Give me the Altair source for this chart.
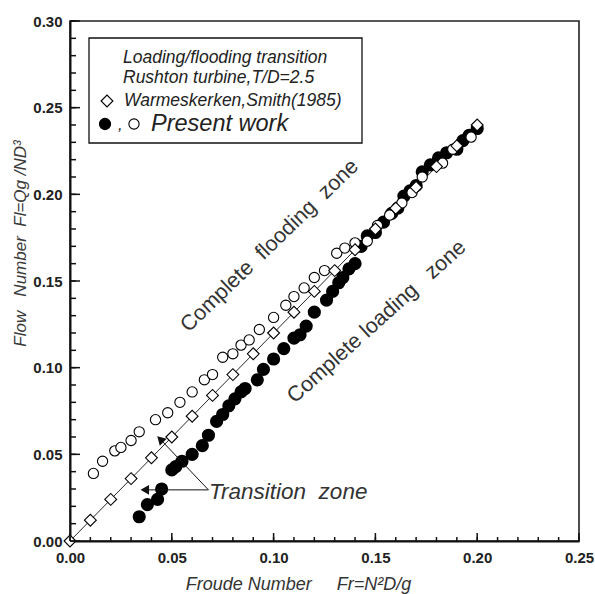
import altair as alt
import pandas as pd

# ---------------- data ----------------
# Warmeskerken & Smith (1985): open diamonds joined by a thin line
ws_fr = [0.000, 0.010, 0.020, 0.030, 0.040, 0.050, 0.060, 0.070, 0.080, 0.090, 0.100,
         0.110, 0.120, 0.130, 0.140, 0.150, 0.160, 0.170, 0.180, 0.190, 0.200]
ws_fl = [0.000, 0.012, 0.024, 0.036, 0.048, 0.060, 0.072, 0.084, 0.096, 0.108, 0.120,
         0.132, 0.144, 0.156, 0.168, 0.180, 0.192, 0.204, 0.216, 0.228, 0.240]

# Present work, open symbols (upper curve)
pw_open_fr = [0.0115, 0.016, 0.022, 0.025, 0.030, 0.034, 0.042, 0.048, 0.054, 0.060, 0.066,
              0.070, 0.075, 0.080, 0.084, 0.088, 0.093, 0.100, 0.106, 0.110, 0.115, 0.120,
              0.125, 0.131, 0.135, 0.140, 0.146, 0.151, 0.157, 0.163, 0.168, 0.173, 0.183,
              0.188, 0.197]
pw_open_fl = [0.039, 0.046, 0.052, 0.054, 0.058, 0.063, 0.070, 0.074, 0.080, 0.086, 0.093,
              0.096, 0.106, 0.108, 0.113, 0.116, 0.122, 0.129, 0.136, 0.141, 0.146, 0.152,
              0.156, 0.166, 0.169, 0.172, 0.173, 0.182, 0.188, 0.195, 0.201, 0.210, 0.218,
              0.226, 0.233]

# Present work, filled symbols (lower curve)
pw_fill_fr = [0.034, 0.038, 0.043, 0.045, 0.050, 0.052, 0.055, 0.060, 0.065, 0.068, 0.072,
              0.075, 0.078, 0.081, 0.084, 0.086, 0.092, 0.095, 0.100, 0.105, 0.110, 0.113,
              0.116, 0.120, 0.126, 0.129, 0.132, 0.134, 0.137, 0.140, 0.143, 0.146, 0.150,
              0.154, 0.158, 0.161, 0.164, 0.167, 0.170, 0.173, 0.177, 0.181, 0.185, 0.190,
              0.193, 0.196, 0.200]
pw_fill_fl = [0.014, 0.021, 0.024, 0.030, 0.041, 0.043, 0.046, 0.050, 0.055, 0.061, 0.069,
              0.073, 0.078, 0.082, 0.086, 0.088, 0.093, 0.099, 0.105, 0.111, 0.117, 0.119,
              0.124, 0.132, 0.139, 0.144, 0.149, 0.152, 0.157, 0.160, 0.170, 0.176, 0.178,
              0.184, 0.189, 0.192, 0.199, 0.202, 0.205, 0.213, 0.217, 0.221, 0.224, 0.226,
              0.231, 0.234, 0.238]

x_major = [0.00, 0.05, 0.10, 0.15, 0.20, 0.25]
y_major = [0.00, 0.05, 0.10, 0.15, 0.20, 0.25, 0.30]
x_minor = [round(i * 0.01, 2) for i in range(26)]
y_minor = [round(i * 0.01, 2) for i in range(31)]

W, H = 509, 520
FONT = "Liberation Sans"
INK = "#222222"
SP = "\u00a0"  # non-breaking space keeps the wide gaps of the original

xs = alt.Scale(domain=[0, 0.25], nice=False, zero=False)
ys = alt.Scale(domain=[0, 0.30], nice=False, zero=False)

x_axis = alt.Axis(values=x_major, format=".2f", ticks=False, grid=False,
                  domainColor="#111", domainWidth=2, labelFont=FONT, labelFontSize=15,
                  labelFontWeight="bold", labelColor=INK, labelPadding=9, labelFlush=False,
                  title="Froude" + SP + "Number" + SP * 5 + "Fr=N\u00b2D/g",
                  titleFont=FONT, titleFontSize=18,
                  titleFontStyle="italic", titleFontWeight="normal", titleColor="#333",
                  titleX=228, titleY=43, titleAlign="center", titleBaseline="middle")
y_axis = alt.Axis(values=y_major, format=".2f", ticks=False, grid=False,
                  domainColor="#111", domainWidth=2, labelFont=FONT, labelFontSize=15,
                  labelFontWeight="bold", labelColor=INK, labelPadding=8, labelFlush=False,
                  title="Flow" + SP * 3 + "Number" + SP * 2 + "Fl=Qg" + SP + "/ND\u00b3",
                  titleFont=FONT, titleFontSize=17,
                  titleFontStyle="italic", titleFontWeight="normal", titleColor="#3a3a3a",
                  titleX=-50, titleY=222, titleAlign="center", titleBaseline="middle",
                  titleAngle=270)

def X():
    return alt.X("x:Q", scale=xs, axis=x_axis)

def Y():
    return alt.Y("y:Q", scale=ys, axis=y_axis)

ws_df = pd.DataFrame({"x": ws_fr, "y": ws_fl})
po_df = pd.DataFrame({"x": pw_open_fr, "y": pw_open_fl})
pf_df = pd.DataFrame({"x": pw_fill_fr, "y": pw_fill_fl})

line = alt.Chart(ws_df).mark_line(color="#111", strokeWidth=0.9).encode(x=X(), y=Y())
filled = alt.Chart(pf_df).mark_point(shape="circle", filled=True, fill="#000",
                                     stroke="#000", size=125, opacity=1).encode(x=X(), y=Y())
opens = alt.Chart(po_df).mark_point(shape="circle", filled=True, fill="white",
                                    stroke="#000", strokeWidth=1.1, size=105,
                                    opacity=1).encode(x=X(), y=Y())
diamonds = alt.Chart(ws_df).mark_point(shape="diamond", filled=True, fill="white",
                                       stroke="#000", strokeWidth=1.1, size=140,
                                       opacity=1).encode(x=X(), y=Y())

# inward ticks
yt_major = alt.Chart(pd.DataFrame({"y": y_major})).mark_rule(color="#111", strokeWidth=1.5).encode(
    y=Y(), x=alt.value(0), x2=alt.value(10))
yt_minor = alt.Chart(pd.DataFrame({"y": y_minor})).mark_rule(color="#111", strokeWidth=1.5).encode(
    y=Y(), x=alt.value(0), x2=alt.value(6))
xt_major = alt.Chart(pd.DataFrame({"x": x_major})).mark_rule(color="#111", strokeWidth=1.5).encode(
    x=X(), y=alt.value(H), y2=alt.value(H - 8))
xt_minor = alt.Chart(pd.DataFrame({"x": x_minor})).mark_rule(color="#111", strokeWidth=1.5).encode(
    x=X(), y=alt.value(H), y2=alt.value(H - 4))

one = pd.DataFrame({"a": [0]})

def txt(s, px, py, size, style="normal", angle=0, align="left", color=INK):
    return alt.Chart(one).mark_text(text=s, font=FONT, fontSize=size, fontStyle=style,
                                    angle=angle, align=align, baseline="middle",
                                    color=color).encode(x=alt.value(px), y=alt.value(py))

def sym(shape, px, py, fill, size):
    return alt.Chart(one).mark_point(shape=shape, filled=True, fill=fill, stroke="#000",
                                     strokeWidth=1.1, size=size, opacity=1).encode(
        x=alt.value(px), y=alt.value(py))

legend_box = alt.Chart(one).mark_rect(fill="white", stroke="#111", strokeWidth=1.3).encode(
    x=alt.value(19), x2=alt.value(292), y=alt.value(17), y2=alt.value(122))

legend = [
    legend_box,
    txt("Loading/flooding transition", 53, 37, 17.5, "italic"),
    txt("Rushton turbine,T/D=2.5", 53, 57, 17.5, "italic"),
    sym("diamond", 37, 80, "white", 140),
    txt("Warmeskerken,Smith(1985)", 54, 80, 17.5, "italic"),
    sym("circle", 35, 103, "#000", 125),
    txt(",", 48, 104, 17, "italic"),
    sym("circle", 64, 103, "white", 105),
    txt("Present work", 81, 103, 23.5, "italic"),
]

zones = [
    txt("Complete" + SP * 2 + "flooding" + SP * 2 + "zone", 200, 225, 21.5, "normal", 316,
        "center", "#333"),
    txt("Complete" + SP + "loading" + SP * 3 + "zone", 307, 301, 21.5, "normal", 318,
        "center", "#333"),
    txt("Transition" + SP * 2 + "zone", 139, 471, 22.5, "italic", 0, "left", "#333"),
]

arr_df = pd.DataFrame({"x": [0.068, 0.068], "y": [0.0295, 0.0295],
                       "x2": [0.0445, 0.037], "y2": [0.0585, 0.0295]})
arrows = alt.Chart(arr_df).mark_rule(color="#111", strokeWidth=1).encode(
    x=X(), y=Y(), x2="x2:Q", y2="y2:Q")
heads_df = pd.DataFrame({"x": [0.0445, 0.037], "y": [0.0585, 0.0295], "ang": [315, 270]})
heads = alt.Chart(heads_df).mark_point(shape="triangle-up", filled=True, fill="#111",
                                       stroke="#111", size=40, opacity=1).encode(
    x=X(), y=Y(), angle=alt.Angle("ang:Q", scale=None))

chart = alt.layer(
    line, filled, opens, diamonds,
    yt_major, yt_minor, xt_major, xt_minor,
    arrows, heads,
    *zones, *legend,
).properties(
    width=W, height=H,
    autosize=alt.AutoSizeParams(type="none"),
    padding={"left": 70, "top": 21, "right": 16, "bottom": 53},
    background="white",
).configure_view(stroke="#222", strokeWidth=1.6)

chart.save("out.html", embed_options={"renderer": "svg", "actions": False})
